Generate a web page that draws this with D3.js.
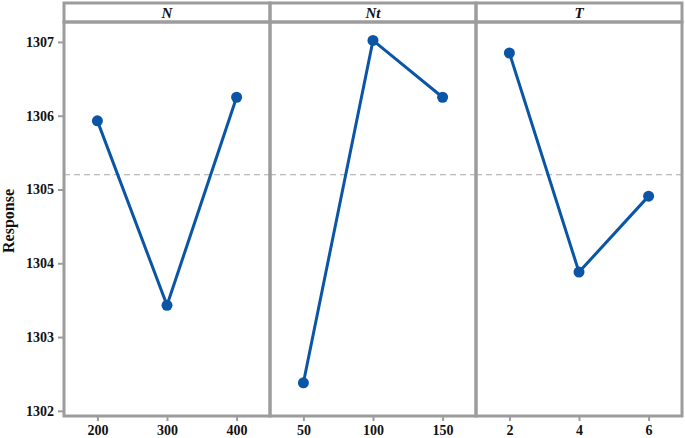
<!DOCTYPE html>
<html>
<head>
<meta charset="utf-8">
<script src="https://cdn.jsdelivr.net/npm/d3@7"></script>
<style>
  body { margin: 0; background: #fff; }
</style>
</head>
<body>
<div class="canvas"></div>
<script>
// data
const factors = ['N', 'Nt', 'T'];
const levels = [['200', '300', '400'], ['50', '100', '150'], ['2', '4', '6']];
const responses = [
  [1305.93, 1303.43, 1306.25],
  [1302.38, 1307.02, 1306.25],
  [1306.85, 1303.88, 1304.91]
];
const meanResponse = 1305.2;
const yTicks = [1302, 1303, 1304, 1305, 1306, 1307];

// setup
const W = 685, H = 438;
const margin = { top: 3, right: 3, bottom: 22, left: 64 };
const stripH = 19;
const plotTop = margin.top + stripH;
const plotBottom = H - margin.bottom;
const panelW = (W - margin.left - margin.right) / factors.length;

const gray = '#9c9c9c';
const blue = '#0b55a6';
const font = '"Liberation Serif", "Times New Roman", serif';

const svg = d3.select('.canvas')
  .append('svg')
  .attr('width', W)
  .attr('height', H)
  .attr('font-family', font)
  .attr('font-weight', 'bold');

// y scale
const y = d3.scaleLinear()
  .domain([1301.93, 1307.27])
  .range([plotBottom, plotTop]);

// y axis
const yAxis = d3.axisLeft(y)
  .tickValues(yTicks)
  .tickFormat(d3.format('d'))
  .tickSize(5)
  .tickPadding(4);

const yAxisGroup = svg.append('g')
  .attr('transform', `translate(${margin.left - 1},0)`)
  .call(yAxis)
  .attr('font-family', font)
  .attr('font-size', 14);
yAxisGroup.select('.domain').remove();
yAxisGroup.selectAll('line').attr('stroke', gray).attr('stroke-width', 2);
yAxisGroup.selectAll('text').attr('fill', '#111');

// y label
svg.append('text')
  .attr('transform', `translate(14,${(plotTop + plotBottom) / 2 + 2}) rotate(-90)`)
  .attr('text-anchor', 'middle')
  .attr('font-size', 16)
  .attr('fill', '#111')
  .text('Response');

// panels
factors.forEach((f, i) => {
  const x0 = margin.left + i * panelW;
  const g = svg.append('g').attr('transform', `translate(${x0},0)`);

  const x = d3.scalePoint()
    .domain(levels[i])
    .range([0, panelW])
    .padding(0.48);

  // mean dashed line
  g.append('line')
    .attr('x1', 0).attr('x2', panelW)
    .attr('y1', y(meanResponse)).attr('y2', y(meanResponse))
    .attr('stroke', '#a8a8a8')
    .attr('stroke-width', 1.2)
    .attr('stroke-dasharray', '6,4');

  // x axis
  const xAxis = d3.axisBottom(x).tickSize(5).tickPadding(4);
  const xg = g.append('g')
    .attr('transform', `translate(0,${plotBottom})`)
    .call(xAxis)
    .attr('font-family', font)
    .attr('font-size', 14);
  xg.select('.domain').remove();
  xg.selectAll('line').attr('stroke', gray).attr('stroke-width', 2);
  xg.selectAll('text').attr('fill', '#111');

  // line and points
  const pts = levels[i].map((l, j) => ({ l, v: responses[i][j] }));
  g.append('path')
    .datum(pts)
    .attr('fill', 'none')
    .attr('stroke', blue)
    .attr('stroke-width', 3)
    .attr('d', d3.line().x(d => x(d.l)).y(d => y(d.v)));

  g.selectAll('circle')
    .data(pts)
    .enter()
    .append('circle')
    .attr('cx', d => x(d.l))
    .attr('cy', d => y(d.v))
    .attr('r', 5.5)
    .attr('fill', blue);

  // strip header
  g.append('rect')
    .attr('x', 0).attr('y', margin.top)
    .attr('width', panelW).attr('height', stripH)
    .attr('fill', 'none')
    .attr('stroke', gray)
    .attr('stroke-width', 3);
  g.append('text')
    .attr('x', panelW / 2)
    .attr('y', margin.top + stripH / 2 + 5)
    .attr('text-anchor', 'middle')
    .attr('font-size', 15)
    .attr('font-style', 'italic')
    .attr('fill', '#111')
    .text(f);

  // panel border
  g.append('rect')
    .attr('x', 0).attr('y', plotTop)
    .attr('width', panelW).attr('height', plotBottom - plotTop)
    .attr('fill', 'none')
    .attr('stroke', gray)
    .attr('stroke-width', 3);
});
</script>
</body>
</html>
